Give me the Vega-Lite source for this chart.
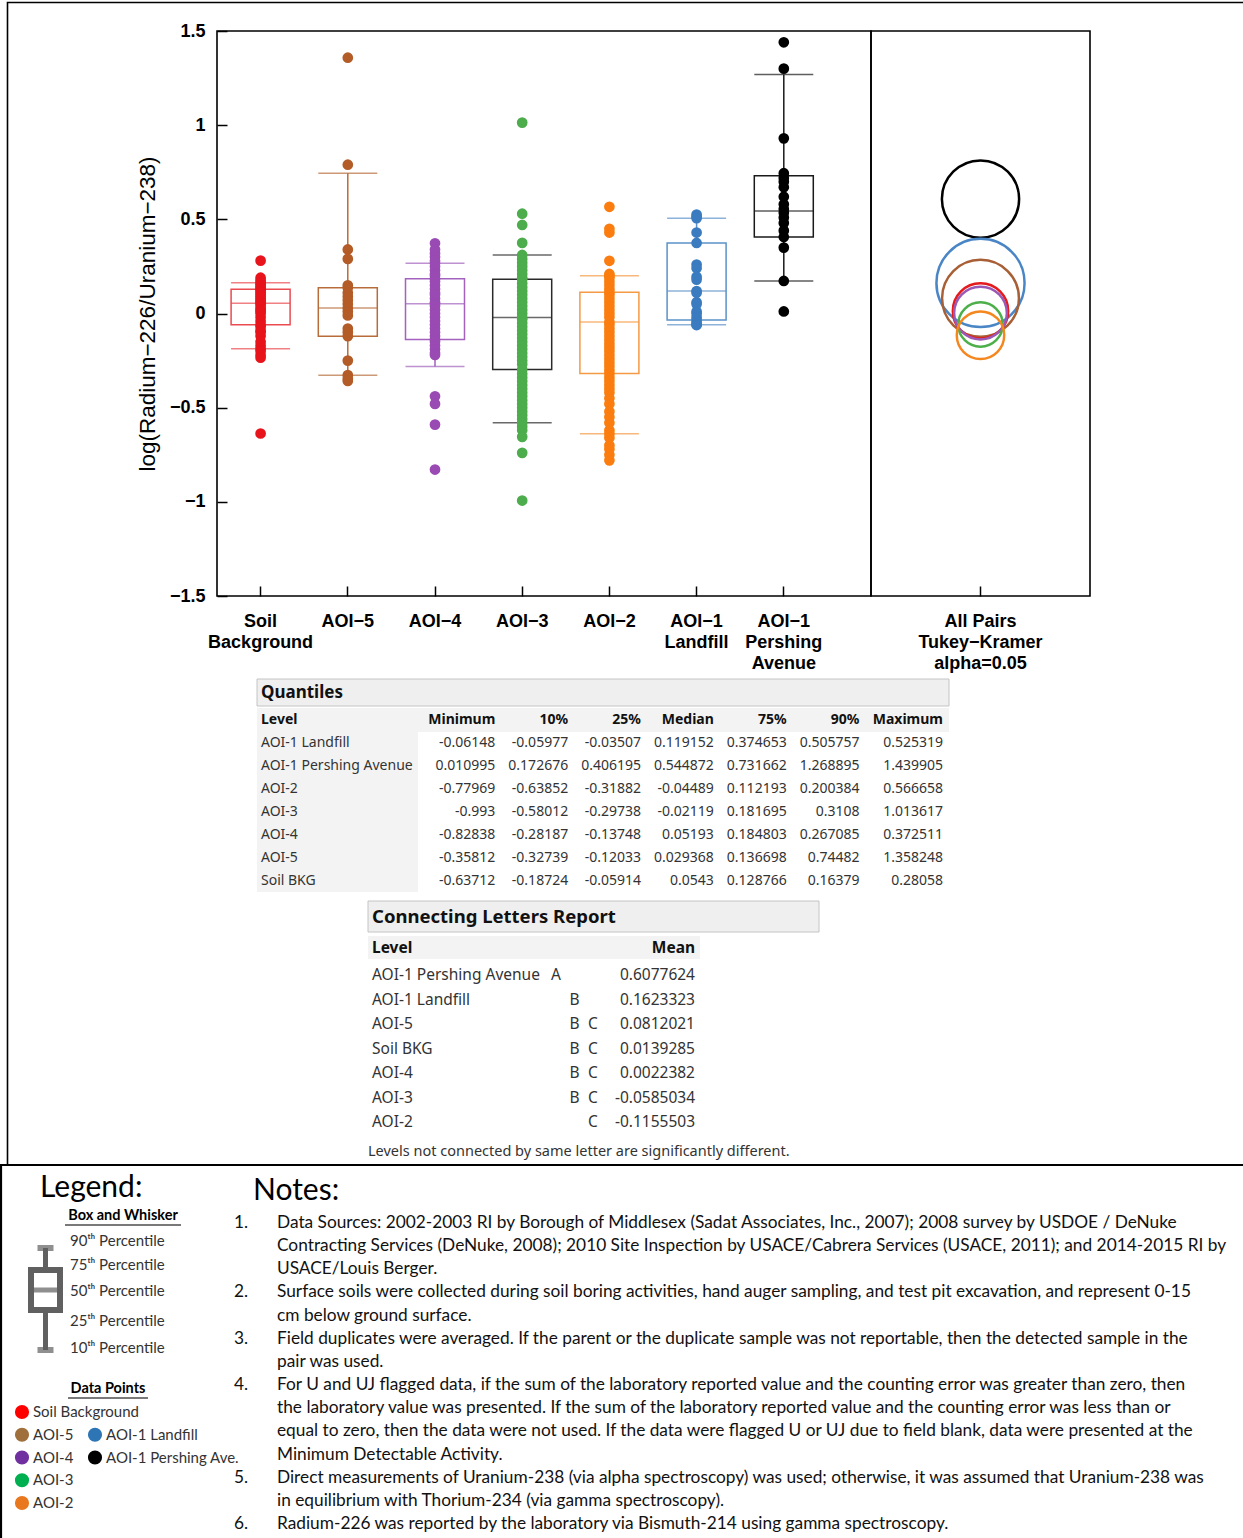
{
"$schema": "https://vega.github.io/schema/vega-lite/v6.json",
"width": 1243,
"height": 1538,
"padding": 0,
"autosize": {"type": "none"},
"background": "#ffffff",
"config": {
  "view": {"stroke": null},
  "locale": {"number": {"decimal": ".", "thousands": ",", "grouping": [3], "currency": ["$", ""], "minus": "-"}}
},
"datasets": {
  "points": [
    {"group":"Soil Background","value":0.28058},{"group":"Soil Background","value":0.19},{"group":"Soil Background","value":0.175},{"group":"Soil Background","value":0.16379},{"group":"Soil Background","value":0.155},{"group":"Soil Background","value":0.145},{"group":"Soil Background","value":0.135},{"group":"Soil Background","value":0.128766},{"group":"Soil Background","value":0.12},{"group":"Soil Background","value":0.11},{"group":"Soil Background","value":0.1},{"group":"Soil Background","value":0.09},{"group":"Soil Background","value":0.08},{"group":"Soil Background","value":0.07},{"group":"Soil Background","value":0.06},{"group":"Soil Background","value":0.0543},{"group":"Soil Background","value":0.045},{"group":"Soil Background","value":0.03},{"group":"Soil Background","value":0.02},{"group":"Soil Background","value":0.01},{"group":"Soil Background","value":0},{"group":"Soil Background","value":-0.02},{"group":"Soil Background","value":-0.04},{"group":"Soil Background","value":-0.05914},{"group":"Soil Background","value":-0.07},{"group":"Soil Background","value":-0.09},{"group":"Soil Background","value":-0.1},{"group":"Soil Background","value":-0.12},{"group":"Soil Background","value":-0.15},{"group":"Soil Background","value":-0.17},{"group":"Soil Background","value":-0.18724},{"group":"Soil Background","value":-0.2},{"group":"Soil Background","value":-0.22},{"group":"Soil Background","value":-0.235},{"group":"Soil Background","value":-0.63712},
    {"group":"AOI-5","value":1.358248},{"group":"AOI-5","value":0.79},{"group":"AOI-5","value":0.34},{"group":"AOI-5","value":0.29},{"group":"AOI-5","value":0.15},{"group":"AOI-5","value":0.136698},{"group":"AOI-5","value":0.11},{"group":"AOI-5","value":0.09},{"group":"AOI-5","value":0.07},{"group":"AOI-5","value":0.05},{"group":"AOI-5","value":0.029368},{"group":"AOI-5","value":0.01},{"group":"AOI-5","value":-0.01},{"group":"AOI-5","value":-0.08},{"group":"AOI-5","value":-0.1},{"group":"AOI-5","value":-0.12033},{"group":"AOI-5","value":-0.25},{"group":"AOI-5","value":-0.32739},{"group":"AOI-5","value":-0.345},{"group":"AOI-5","value":-0.35812},
    {"group":"AOI-4","value":0.372511},{"group":"AOI-4","value":0.34},{"group":"AOI-4","value":0.32},{"group":"AOI-4","value":0.3},{"group":"AOI-4","value":0.28},{"group":"AOI-4","value":0.267085},{"group":"AOI-4","value":0.25},{"group":"AOI-4","value":0.23},{"group":"AOI-4","value":0.21},{"group":"AOI-4","value":0.2},{"group":"AOI-4","value":0.184803},{"group":"AOI-4","value":0.17},{"group":"AOI-4","value":0.15},{"group":"AOI-4","value":0.13},{"group":"AOI-4","value":0.11},{"group":"AOI-4","value":0.1},{"group":"AOI-4","value":0.08},{"group":"AOI-4","value":0.06},{"group":"AOI-4","value":0.05193},{"group":"AOI-4","value":0.04},{"group":"AOI-4","value":0.02},{"group":"AOI-4","value":0},{"group":"AOI-4","value":-0.02},{"group":"AOI-4","value":-0.04},{"group":"AOI-4","value":-0.06},{"group":"AOI-4","value":-0.08},{"group":"AOI-4","value":-0.1},{"group":"AOI-4","value":-0.12},{"group":"AOI-4","value":-0.13748},{"group":"AOI-4","value":-0.15},{"group":"AOI-4","value":-0.17},{"group":"AOI-4","value":-0.19},{"group":"AOI-4","value":-0.21},{"group":"AOI-4","value":-0.22},{"group":"AOI-4","value":-0.44},{"group":"AOI-4","value":-0.48},{"group":"AOI-4","value":-0.59},{"group":"AOI-4","value":-0.82838},
    {"group":"AOI-3","value":1.013617},{"group":"AOI-3","value":0.53},{"group":"AOI-3","value":0.47},{"group":"AOI-3","value":0.375},{"group":"AOI-3","value":0.3108},{"group":"AOI-3","value":0.29},{"group":"AOI-3","value":0.27},{"group":"AOI-3","value":0.25},{"group":"AOI-3","value":0.23},{"group":"AOI-3","value":0.21},{"group":"AOI-3","value":0.19},{"group":"AOI-3","value":0.181695},{"group":"AOI-3","value":0.16},{"group":"AOI-3","value":0.14},{"group":"AOI-3","value":0.12},{"group":"AOI-3","value":0.1},{"group":"AOI-3","value":0.08},{"group":"AOI-3","value":0.06},{"group":"AOI-3","value":0.04},{"group":"AOI-3","value":0.02},{"group":"AOI-3","value":0},{"group":"AOI-3","value":-0.02119},{"group":"AOI-3","value":-0.03},{"group":"AOI-3","value":-0.05},{"group":"AOI-3","value":-0.07},{"group":"AOI-3","value":-0.09},{"group":"AOI-3","value":-0.11},{"group":"AOI-3","value":-0.13},{"group":"AOI-3","value":-0.15},{"group":"AOI-3","value":-0.17},{"group":"AOI-3","value":-0.19},{"group":"AOI-3","value":-0.21},{"group":"AOI-3","value":-0.23},{"group":"AOI-3","value":-0.25},{"group":"AOI-3","value":-0.27},{"group":"AOI-3","value":-0.29738},{"group":"AOI-3","value":-0.32},{"group":"AOI-3","value":-0.34},{"group":"AOI-3","value":-0.36},{"group":"AOI-3","value":-0.38},{"group":"AOI-3","value":-0.4},{"group":"AOI-3","value":-0.42},{"group":"AOI-3","value":-0.44},{"group":"AOI-3","value":-0.46},{"group":"AOI-3","value":-0.48},{"group":"AOI-3","value":-0.5},{"group":"AOI-3","value":-0.52},{"group":"AOI-3","value":-0.54},{"group":"AOI-3","value":-0.56},{"group":"AOI-3","value":-0.58012},{"group":"AOI-3","value":-0.6},{"group":"AOI-3","value":-0.62},{"group":"AOI-3","value":-0.655},{"group":"AOI-3","value":-0.74},{"group":"AOI-3","value":-0.993},
    {"group":"AOI-2","value":0.566658},{"group":"AOI-2","value":0.45},{"group":"AOI-2","value":0.43},{"group":"AOI-2","value":0.28},{"group":"AOI-2","value":0.21},{"group":"AOI-2","value":0.200384},{"group":"AOI-2","value":0.19},{"group":"AOI-2","value":0.17},{"group":"AOI-2","value":0.15},{"group":"AOI-2","value":0.13},{"group":"AOI-2","value":0.112193},{"group":"AOI-2","value":0.1},{"group":"AOI-2","value":0.08},{"group":"AOI-2","value":0.06},{"group":"AOI-2","value":0.04},{"group":"AOI-2","value":0.02},{"group":"AOI-2","value":0},{"group":"AOI-2","value":-0.02},{"group":"AOI-2","value":-0.04489},{"group":"AOI-2","value":-0.06},{"group":"AOI-2","value":-0.08},{"group":"AOI-2","value":-0.1},{"group":"AOI-2","value":-0.12},{"group":"AOI-2","value":-0.14},{"group":"AOI-2","value":-0.16},{"group":"AOI-2","value":-0.18},{"group":"AOI-2","value":-0.2},{"group":"AOI-2","value":-0.22},{"group":"AOI-2","value":-0.24},{"group":"AOI-2","value":-0.26},{"group":"AOI-2","value":-0.28},{"group":"AOI-2","value":-0.3},{"group":"AOI-2","value":-0.31882},{"group":"AOI-2","value":-0.34},{"group":"AOI-2","value":-0.36},{"group":"AOI-2","value":-0.38},{"group":"AOI-2","value":-0.4},{"group":"AOI-2","value":-0.42},{"group":"AOI-2","value":-0.45},{"group":"AOI-2","value":-0.48},{"group":"AOI-2","value":-0.52},{"group":"AOI-2","value":-0.55},{"group":"AOI-2","value":-0.58},{"group":"AOI-2","value":-0.62},{"group":"AOI-2","value":-0.63852},{"group":"AOI-2","value":-0.66},{"group":"AOI-2","value":-0.7},{"group":"AOI-2","value":-0.72},{"group":"AOI-2","value":-0.75},{"group":"AOI-2","value":-0.77969},
    {"group":"AOI-1 Landfill","value":0.525319},{"group":"AOI-1 Landfill","value":0.515},{"group":"AOI-1 Landfill","value":0.505757},{"group":"AOI-1 Landfill","value":0.43},{"group":"AOI-1 Landfill","value":0.374653},{"group":"AOI-1 Landfill","value":0.26},{"group":"AOI-1 Landfill","value":0.24},{"group":"AOI-1 Landfill","value":0.195},{"group":"AOI-1 Landfill","value":0.18},{"group":"AOI-1 Landfill","value":0.119152},{"group":"AOI-1 Landfill","value":0.11},{"group":"AOI-1 Landfill","value":0.06},{"group":"AOI-1 Landfill","value":0.05},{"group":"AOI-1 Landfill","value":0.01},{"group":"AOI-1 Landfill","value":0},{"group":"AOI-1 Landfill","value":-0.02},{"group":"AOI-1 Landfill","value":-0.03507},{"group":"AOI-1 Landfill","value":-0.05},{"group":"AOI-1 Landfill","value":-0.05977},{"group":"AOI-1 Landfill","value":-0.06148},
    {"group":"AOI-1 Pershing Avenue","value":1.439905},{"group":"AOI-1 Pershing Avenue","value":1.3},{"group":"AOI-1 Pershing Avenue","value":0.93},{"group":"AOI-1 Pershing Avenue","value":0.745},{"group":"AOI-1 Pershing Avenue","value":0.72},{"group":"AOI-1 Pershing Avenue","value":0.7},{"group":"AOI-1 Pershing Avenue","value":0.67},{"group":"AOI-1 Pershing Avenue","value":0.62},{"group":"AOI-1 Pershing Avenue","value":0.58},{"group":"AOI-1 Pershing Avenue","value":0.555},{"group":"AOI-1 Pershing Avenue","value":0.535},{"group":"AOI-1 Pershing Avenue","value":0.51},{"group":"AOI-1 Pershing Avenue","value":0.48},{"group":"AOI-1 Pershing Avenue","value":0.44},{"group":"AOI-1 Pershing Avenue","value":0.406195},{"group":"AOI-1 Pershing Avenue","value":0.35},{"group":"AOI-1 Pershing Avenue","value":0.172676},{"group":"AOI-1 Pershing Avenue","value":0.010995}
  ],
  "quantiles": [
    {"Level":"AOI-1 Landfill","group":"AOI-1 Landfill","Minimum":-0.06148,"p10":-0.05977,"p25":-0.03507,"Median":0.119152,"p75":0.374653,"p90":0.505757,"Maximum":0.525319},
    {"Level":"AOI-1 Pershing Avenue","group":"AOI-1 Pershing Avenue","Minimum":0.010995,"p10":0.172676,"p25":0.406195,"Median":0.544872,"p75":0.731662,"p90":1.268895,"Maximum":1.439905},
    {"Level":"AOI-2","group":"AOI-2","Minimum":-0.77969,"p10":-0.63852,"p25":-0.31882,"Median":-0.04489,"p75":0.112193,"p90":0.200384,"Maximum":0.566658},
    {"Level":"AOI-3","group":"AOI-3","Minimum":-0.993,"p10":-0.58012,"p25":-0.29738,"Median":-0.02119,"p75":0.181695,"p90":0.3108,"Maximum":1.013617},
    {"Level":"AOI-4","group":"AOI-4","Minimum":-0.82838,"p10":-0.28187,"p25":-0.13748,"Median":0.05193,"p75":0.184803,"p90":0.267085,"Maximum":0.372511},
    {"Level":"AOI-5","group":"AOI-5","Minimum":-0.35812,"p10":-0.32739,"p25":-0.12033,"Median":0.029368,"p75":0.136698,"p90":0.74482,"Maximum":1.358248},
    {"Level":"Soil BKG","group":"Soil Background","Minimum":-0.63712,"p10":-0.18724,"p25":-0.05914,"Median":0.0543,"p75":0.128766,"p90":0.16379,"Maximum":0.28058}
  ],
  "means": [
    {"Level":"AOI-1 Pershing Avenue","group":"AOI-1 Pershing Avenue","Letters":["A"],"Mean":0.6077624,"radius":0.205},
    {"Level":"AOI-1 Landfill","group":"AOI-1 Landfill","Letters":["B"],"Mean":0.1623323,"radius":0.234},
    {"Level":"AOI-5","group":"AOI-5","Letters":["B","C"],"Mean":0.0812021,"radius":0.204},
    {"Level":"Soil BKG","group":"Soil Background","Letters":["B","C"],"Mean":0.0139285,"radius":0.147},
    {"Level":"AOI-4","group":"AOI-4","Letters":["B","C"],"Mean":0.0022382,"radius":0.14},
    {"Level":"AOI-3","group":"AOI-3","Letters":["B","C"],"Mean":-0.0585034,"radius":0.118},
    {"Level":"AOI-2","group":"AOI-2","Letters":["C"],"Mean":-0.1155503,"radius":0.126}
  ],
  "qheads": [
    {"key":"Level","label":"Level"},{"key":"Minimum","label":"Minimum"},{"key":"p10","label":"10%"},{"key":"p25","label":"25%"},{"key":"Median","label":"Median"},{"key":"p75","label":"75%"},{"key":"p90","label":"90%"},{"key":"Maximum","label":"Maximum"}
  ],
  "lheads": [{"key":"Level","label":"Level"},{"key":"Mean","label":"Mean"}],
  "pctLegend": [
    {"pct":90,"label":"90ᵗʰ Percentile"},{"pct":75,"label":"75ᵗʰ Percentile"},{"pct":50,"label":"50ᵗʰ Percentile"},{"pct":25,"label":"25ᵗʰ Percentile"},{"pct":10,"label":"10ᵗʰ Percentile"}
  ],
  "legend1": [{"label":"Soil Background"},{"label":"AOI-5"},{"label":"AOI-4"},{"label":"AOI-3"},{"label":"AOI-2"}],
  "legend2": [{"label":"AOI-1 Landfill","beside":"AOI-5"},{"label":"AOI-1 Pershing Ave.","beside":"AOI-4"}],
  "notes": [
    {"line":1,"num":"1.","text":"Data Sources: 2002-2003 RI by Borough of Middlesex (Sadat Associates, Inc., 2007); 2008 survey by USDOE / DeNuke"},
    {"line":2,"num":"","text":"Contracting Services (DeNuke, 2008); 2010 Site Inspection by USACE/Cabrera Services (USACE, 2011); and 2014-2015 RI by"},
    {"line":3,"num":"","text":"USACE/Louis Berger."},
    {"line":4,"num":"2.","text":"Surface soils were collected during soil boring activities, hand auger sampling, and test pit excavation, and represent 0-15"},
    {"line":5,"num":"","text":"cm below ground surface."},
    {"line":6,"num":"3.","text":"Field duplicates were averaged.  If the parent or the duplicate sample was not reportable, then the detected sample in the"},
    {"line":7,"num":"","text":"pair was used."},
    {"line":8,"num":"4.","text":"For U and UJ flagged data, if the sum of the laboratory reported value and the counting error was greater than zero, then"},
    {"line":9,"num":"","text":"the laboratory value was presented.  If the sum of the laboratory reported value and the counting error was less than or"},
    {"line":10,"num":"","text":"equal to zero, then the data were not used.  If the data were flagged U or UJ due to field blank, data were presented at the"},
    {"line":11,"num":"","text":"Minimum Detectable Activity."},
    {"line":12,"num":"5.","text":"Direct measurements of Uranium-238 (via alpha spectroscopy) was used; otherwise, it was assumed that Uranium-238 was"},
    {"line":13,"num":"","text":"in equilibrium with Thorium-234 (via gamma spectroscopy)."},
    {"line":14,"num":"6.","text":"Radium-226 was reported by the laboratory via Bismuth-214 using gamma spectroscopy."}
  ]
},
"layer": [
  {
    "layer": [
      {"data": {"values": [{"box": "report"}]},
       "mark": {"type": "rect", "fill": "transparent", "stroke": "#000000", "strokeWidth": 1.6},
       "encoding": {
         "x": {"field": "box", "type": "nominal", "scale": {"type": "band", "domain": ["report"], "range": [7.5, 1252], "paddingInner": 0, "paddingOuter": 0}, "axis": null},
         "y": {"field": "box", "type": "nominal", "scale": {"type": "band", "domain": ["report"], "range": [2.5, 1165], "paddingInner": 0, "paddingOuter": 0}, "axis": null}}},
      {"data": {"values": [{"box": "notes"}]},
       "mark": {"type": "rect", "fill": "transparent", "stroke": "#000000", "strokeWidth": 2.2},
       "encoding": {
         "x": {"field": "box", "type": "nominal", "scale": {"type": "band", "domain": ["notes"], "range": [1, 1252], "paddingInner": 0, "paddingOuter": 0}, "axis": null},
         "y": {"field": "box", "type": "nominal", "scale": {"type": "band", "domain": ["notes"], "range": [1165, 1548], "paddingInner": 0, "paddingOuter": 0}, "axis": null}}}
    ],
    "resolve": {"scale": {"x": "independent", "y": "independent"}}
  },
  {
    "layer": [
      {"data": {"values": [{"title": "Quantiles"}]},
       "layer": [
         {"mark": {"type": "rect", "fill": "#efefef", "stroke": "#c4c4c4", "strokeWidth": 1},
          "encoding": {
            "x": {"field": "title", "type": "nominal", "scale": {"type": "band", "domain": ["Quantiles"], "range": [257, 949], "paddingInner": 0, "paddingOuter": 0}, "axis": null},
            "y": {"field": "title", "type": "nominal", "scale": {"type": "band", "domain": ["Quantiles"], "range": [679, 706], "paddingInner": 0, "paddingOuter": 0}, "axis": null}}},
         {"mark": {"type": "text", "align": "left", "baseline": "middle", "font": "Noto Sans", "fontWeight": "bold", "fontSize": 17, "dx": 4, "color": "#111111"},
          "encoding": {
            "x": {"field": "title", "type": "nominal", "bandPosition": 0, "scale": {"type": "band", "domain": ["Quantiles"], "range": [257, 949], "paddingInner": 0, "paddingOuter": 0}, "axis": null},
            "y": {"field": "title", "type": "nominal", "scale": {"type": "band", "domain": ["Quantiles"], "range": [679, 706], "paddingInner": 0, "paddingOuter": 0}, "axis": null},
            "text": {"field": "title"}}}
       ]},
      {"data": {"values": [{"part": "header"}]},
       "mark": {"type": "rect", "fill": "#f3f3f3"},
       "encoding": {
         "x": {"field": "part", "type": "nominal", "scale": {"type": "band", "domain": ["header"], "range": [257, 949], "paddingInner": 0, "paddingOuter": 0}, "axis": null},
         "y": {"field": "part", "type": "nominal", "scale": {"type": "band", "domain": ["header"], "range": [708, 732], "paddingInner": 0, "paddingOuter": 0}, "axis": null}}},
      {"data": {"values": [{"part": "levels"}]},
       "mark": {"type": "rect", "fill": "#f3f3f3"},
       "encoding": {
         "x": {"field": "part", "type": "nominal", "scale": {"type": "band", "domain": ["levels"], "range": [257, 418], "paddingInner": 0, "paddingOuter": 0}, "axis": null},
         "y": {"field": "part", "type": "nominal", "scale": {"type": "band", "domain": ["levels"], "range": [708, 892], "paddingInner": 0, "paddingOuter": 0}, "axis": null}}},
      {
        "layer": [
          {"data": {"name": "quantiles"},
           "mark": {"type": "text", "align": "left", "baseline": "middle", "font": "Noto Sans", "fontSize": 14, "color": "#333333"},
           "encoding": {
             "x": {"datum": "Level", "type": "nominal", "bandPosition": 0, "scale": {"type": "band", "domain": ["Level"], "range": [261, 418], "paddingInner": 0, "paddingOuter": 0}, "axis": null},
             "y": {"field": "Level", "type": "nominal", "scale": {"type": "point", "domain": ["Level", "AOI-1 Landfill", "AOI-1 Pershing Avenue", "AOI-2", "AOI-3", "AOI-4", "AOI-5", "Soil BKG"], "range": [720, 880.5], "padding": 0}, "axis": null},
             "text": {"field": "Level"}}},
          {"data": {"name": "qheads"},
           "transform": [{"filter": "datum.key == 'Level'"}],
           "mark": {"type": "text", "align": "left", "baseline": "middle", "font": "Noto Sans", "fontWeight": "bold", "fontSize": 14, "color": "#111111"},
           "encoding": {
             "x": {"field": "key", "type": "nominal", "bandPosition": 0, "scale": {"type": "band", "domain": ["Level"], "range": [261, 418], "paddingInner": 0, "paddingOuter": 0}, "axis": null},
             "y": {"datum": "Level", "type": "nominal", "scale": {"type": "point", "domain": ["Level", "AOI-1 Landfill", "AOI-1 Pershing Avenue", "AOI-2", "AOI-3", "AOI-4", "AOI-5", "Soil BKG"], "range": [720, 880.5], "padding": 0}, "axis": null},
             "text": {"field": "label"}}},
          {"data": {"name": "quantiles"},
           "transform": [{"fold": ["Minimum", "p10", "p25", "Median", "p75", "p90"], "as": ["key", "val"]}],
           "mark": {"type": "text", "align": "right", "baseline": "middle", "font": "Noto Sans", "fontSize": 14, "color": "#333333"},
           "encoding": {
             "x": {"field": "key", "type": "nominal", "bandPosition": 1, "scale": {"type": "band", "domain": ["Minimum", "p10", "p25", "Median", "p75", "p90"], "range": [422.5, 859.5], "paddingInner": 0, "paddingOuter": 0}, "axis": null},
             "y": {"field": "Level", "type": "nominal", "scale": {"type": "point", "domain": ["Level", "AOI-1 Landfill", "AOI-1 Pershing Avenue", "AOI-2", "AOI-3", "AOI-4", "AOI-5", "Soil BKG"], "range": [720, 880.5], "padding": 0}, "axis": null},
             "text": {"field": "val", "type": "quantitative", "format": ".6~f"}}},
          {"data": {"name": "qheads"},
           "transform": [{"filter": "datum.key != 'Level' && datum.key != 'Maximum'"}],
           "mark": {"type": "text", "align": "right", "baseline": "middle", "font": "Noto Sans", "fontWeight": "bold", "fontSize": 14, "color": "#111111"},
           "encoding": {
             "x": {"field": "key", "type": "nominal", "bandPosition": 1, "scale": {"type": "band", "domain": ["Minimum", "p10", "p25", "Median", "p75", "p90"], "range": [422.5, 859.5], "paddingInner": 0, "paddingOuter": 0}, "axis": null},
             "y": {"datum": "Level", "type": "nominal", "scale": {"type": "point", "domain": ["Level", "AOI-1 Landfill", "AOI-1 Pershing Avenue", "AOI-2", "AOI-3", "AOI-4", "AOI-5", "Soil BKG"], "range": [720, 880.5], "padding": 0}, "axis": null},
             "text": {"field": "label"}}},
          {"data": {"name": "quantiles"},
           "mark": {"type": "text", "align": "right", "baseline": "middle", "font": "Noto Sans", "fontSize": 14, "color": "#333333"},
           "encoding": {
             "x": {"datum": "Maximum", "type": "nominal", "bandPosition": 1, "scale": {"type": "band", "domain": ["Maximum"], "range": [859.5, 943], "paddingInner": 0, "paddingOuter": 0}, "axis": null},
             "y": {"field": "Level", "type": "nominal", "scale": {"type": "point", "domain": ["Level", "AOI-1 Landfill", "AOI-1 Pershing Avenue", "AOI-2", "AOI-3", "AOI-4", "AOI-5", "Soil BKG"], "range": [720, 880.5], "padding": 0}, "axis": null},
             "text": {"field": "Maximum", "type": "quantitative", "format": ".6~f"}}},
          {"data": {"name": "qheads"},
           "transform": [{"filter": "datum.key == 'Maximum'"}],
           "mark": {"type": "text", "align": "right", "baseline": "middle", "font": "Noto Sans", "fontWeight": "bold", "fontSize": 14, "color": "#111111"},
           "encoding": {
             "x": {"field": "key", "type": "nominal", "bandPosition": 1, "scale": {"type": "band", "domain": ["Maximum"], "range": [859.5, 943], "paddingInner": 0, "paddingOuter": 0}, "axis": null},
             "y": {"datum": "Level", "type": "nominal", "scale": {"type": "point", "domain": ["Level", "AOI-1 Landfill", "AOI-1 Pershing Avenue", "AOI-2", "AOI-3", "AOI-4", "AOI-5", "Soil BKG"], "range": [720, 880.5], "padding": 0}, "axis": null},
             "text": {"field": "label"}}}
        ],
        "resolve": {"scale": {"x": "independent"}}
      }
    ],
    "resolve": {"scale": {"x": "independent", "y": "independent"}}
  },
  {
    "layer": [
      {"data": {"values": [{"title": "Connecting Letters Report"}]},
       "layer": [
         {"mark": {"type": "rect", "fill": "#efefef", "stroke": "#c4c4c4", "strokeWidth": 1},
          "encoding": {
            "x": {"field": "title", "type": "nominal", "scale": {"type": "band", "domain": ["Connecting Letters Report"], "range": [368, 819], "paddingInner": 0, "paddingOuter": 0}, "axis": null},
            "y": {"field": "title", "type": "nominal", "scale": {"type": "band", "domain": ["Connecting Letters Report"], "range": [901, 932], "paddingInner": 0, "paddingOuter": 0}, "axis": null}}},
         {"mark": {"type": "text", "align": "left", "baseline": "middle", "font": "Noto Sans", "fontWeight": "bold", "fontSize": 18.5, "dx": 4, "color": "#111111"},
          "encoding": {
            "x": {"field": "title", "type": "nominal", "bandPosition": 0, "scale": {"type": "band", "domain": ["Connecting Letters Report"], "range": [368, 819], "paddingInner": 0, "paddingOuter": 0}, "axis": null},
            "y": {"field": "title", "type": "nominal", "scale": {"type": "band", "domain": ["Connecting Letters Report"], "range": [901, 932], "paddingInner": 0, "paddingOuter": 0}, "axis": null},
            "text": {"field": "title"}}}
       ]},
      {"data": {"name": "lheads"},
       "layer": [
         {"mark": {"type": "rect", "fill": "#f3f3f3"},
          "encoding": {
            "x": {"field": "key", "type": "nominal", "scale": {"type": "band", "domain": ["Level", "Mean"], "range": [368, 700], "paddingInner": 0, "paddingOuter": 0}, "axis": null},
            "y": {"datum": "hdr", "type": "nominal", "scale": {"type": "band", "domain": ["hdr"], "range": [936, 959], "paddingInner": 0, "paddingOuter": 0}, "axis": null}}},
         {"transform": [{"filter": "datum.key == 'Level'"}],
          "mark": {"type": "text", "align": "left", "baseline": "middle", "font": "Noto Sans", "fontWeight": "bold", "fontSize": 15.5, "dx": 4, "color": "#111111"},
          "encoding": {
            "x": {"field": "key", "type": "nominal", "bandPosition": 0, "scale": {"type": "band", "domain": ["Level", "Mean"], "range": [368, 700], "paddingInner": 0, "paddingOuter": 0}, "axis": null},
            "y": {"datum": "hdr", "type": "nominal", "scale": {"type": "band", "domain": ["hdr"], "range": [936, 959], "paddingInner": 0, "paddingOuter": 0}, "axis": null},
            "text": {"field": "label"}}},
         {"transform": [{"filter": "datum.key == 'Mean'"}],
          "mark": {"type": "text", "align": "right", "baseline": "middle", "font": "Noto Sans", "fontWeight": "bold", "fontSize": 15.5, "dx": -5, "color": "#111111"},
          "encoding": {
            "x": {"field": "key", "type": "nominal", "bandPosition": 1, "scale": {"type": "band", "domain": ["Level", "Mean"], "range": [368, 700], "paddingInner": 0, "paddingOuter": 0}, "axis": null},
            "y": {"datum": "hdr", "type": "nominal", "scale": {"type": "band", "domain": ["hdr"], "range": [936, 959], "paddingInner": 0, "paddingOuter": 0}, "axis": null},
            "text": {"field": "label"}}}
       ]},
      {"data": {"name": "means"},
       "layer": [
         {"mark": {"type": "text", "align": "left", "baseline": "middle", "font": "Noto Sans", "fontSize": 15.5, "color": "#333333"},
          "encoding": {
            "x": {"datum": "Level", "type": "nominal", "bandPosition": 0, "scale": {"type": "band", "domain": ["Level"], "range": [372, 550], "paddingInner": 0, "paddingOuter": 0}, "axis": null},
            "y": {"field": "Level", "type": "nominal", "scale": {"type": "point", "domain": ["AOI-1 Pershing Avenue", "AOI-1 Landfill", "AOI-5", "Soil BKG", "AOI-4", "AOI-3", "AOI-2"], "range": [975, 1122], "padding": 0}, "axis": null},
            "text": {"field": "Level"}}},
         {"transform": [{"flatten": ["Letters"]}],
          "mark": {"type": "text", "align": "center", "baseline": "middle", "font": "Noto Sans", "fontSize": 15.5, "color": "#333333"},
          "encoding": {
            "x": {"field": "Letters", "type": "nominal", "scale": {"type": "point", "domain": ["A", "B", "C"], "range": [556, 593], "padding": 0}, "axis": null},
            "y": {"field": "Level", "type": "nominal", "scale": {"type": "point", "domain": ["AOI-1 Pershing Avenue", "AOI-1 Landfill", "AOI-5", "Soil BKG", "AOI-4", "AOI-3", "AOI-2"], "range": [975, 1122], "padding": 0}, "axis": null},
            "text": {"field": "Letters"}}},
         {"mark": {"type": "text", "align": "right", "baseline": "middle", "font": "Noto Sans", "fontSize": 15.5, "color": "#333333"},
          "encoding": {
            "x": {"datum": "Mean", "type": "nominal", "bandPosition": 1, "scale": {"type": "band", "domain": ["Mean"], "range": [600, 695], "paddingInner": 0, "paddingOuter": 0}, "axis": null},
            "y": {"field": "Level", "type": "nominal", "scale": {"type": "point", "domain": ["AOI-1 Pershing Avenue", "AOI-1 Landfill", "AOI-5", "Soil BKG", "AOI-4", "AOI-3", "AOI-2"], "range": [975, 1122], "padding": 0}, "axis": null},
            "text": {"field": "Mean", "type": "quantitative", "format": ".7f"}}}
       ],
       "resolve": {"scale": {"x": "independent"}}},
      {"data": {"values": [{"note": "Levels not connected by same letter are significantly different."}]},
       "mark": {"type": "text", "align": "left", "baseline": "middle", "font": "Noto Sans", "fontSize": 14.5, "color": "#333333"},
       "encoding": {
         "x": {"field": "note", "type": "nominal", "bandPosition": 0, "scale": {"type": "band", "range": [368, 819], "paddingInner": 0, "paddingOuter": 0}, "axis": null},
         "y": {"field": "note", "type": "nominal", "scale": {"type": "band", "range": [1142, 1162], "paddingInner": 0, "paddingOuter": 0}, "axis": null},
         "text": {"field": "note"}}}
    ],
    "resolve": {"scale": {"x": "independent", "y": "independent"}}
  },
  {
    "layer": [
      {"data": {"values": [{"h": "Legend:"}, {"h": "Notes:"}]},
       "mark": {"type": "text", "align": "left", "baseline": "middle", "font": "Lato", "fontSize": 30, "color": "#000000"},
       "encoding": {
         "x": {"field": "h", "type": "nominal", "scale": {"type": "point", "domain": ["Legend:", "Notes:"], "range": [40, 253], "padding": 0}, "axis": null},
         "y": {"field": "h", "type": "nominal", "scale": {"type": "point", "domain": ["Legend:", "Notes:"], "range": [1188, 1191], "padding": 0}, "axis": null},
         "text": {"field": "h"}}},
      {"data": {"values": [{"s": "Box and Whisker"}, {"s": "Data Points"}]},
       "layer": [
         {"mark": {"type": "text", "align": "center", "baseline": "middle", "font": "Lato", "fontWeight": "bold", "fontSize": 14.5, "color": "#000000"},
          "encoding": {
            "x": {"field": "s", "type": "nominal", "scale": {"type": "point", "domain": ["Box and Whisker", "Data Points"], "range": [123, 108], "padding": 0}, "axis": null},
            "y": {"field": "s", "type": "nominal", "scale": {"type": "point", "domain": ["Box and Whisker", "Data Points"], "range": [1216, 1389], "padding": 0}, "axis": null},
            "text": {"field": "s"}}},
         {"mark": {"type": "tick", "orient": "horizontal", "thickness": 1.3, "yOffset": 9, "color": "#000000"},
          "encoding": {
            "x": {"field": "s", "type": "nominal", "scale": {"type": "point", "domain": ["Box and Whisker", "Data Points"], "range": [123, 108], "padding": 0}, "axis": null},
            "y": {"field": "s", "type": "nominal", "scale": {"type": "point", "domain": ["Box and Whisker", "Data Points"], "range": [1216, 1389], "padding": 0}, "axis": null},
            "size": {"field": "s", "type": "ordinal", "scale": {"domain": ["Box and Whisker", "Data Points"], "range": [116, 80]}, "legend": null}}}
       ]},
      {"data": {"name": "pctLegend"},
       "layer": [
         {"mark": {"type": "rule", "strokeWidth": 5, "color": "#606060"},
          "encoding": {
            "x": {"datum": "icon", "type": "nominal", "scale": {"type": "band", "domain": ["icon"], "range": [31, 60], "paddingInner": 0, "paddingOuter": 0}, "axis": null},
            "y": {"aggregate": "min", "field": "pct", "type": "quantitative", "scale": {"domain": [10, 25, 50, 75, 90], "range": [1350, 1310, 1290, 1270, 1248], "nice": false, "zero": false}, "axis": null},
            "y2": {"aggregate": "max", "field": "pct"}}},
         {"transform": [{"filter": "datum.pct == 25 || datum.pct == 75"}],
          "mark": {"type": "rect", "fill": "#ffffff", "stroke": "#606060", "strokeWidth": 6},
          "encoding": {
            "x": {"datum": "icon", "type": "nominal", "scale": {"type": "band", "domain": ["icon"], "range": [31, 60], "paddingInner": 0, "paddingOuter": 0}, "axis": null},
            "y": {"aggregate": "min", "field": "pct", "type": "quantitative", "scale": {"domain": [10, 25, 50, 75, 90], "range": [1350, 1310, 1290, 1270, 1248], "nice": false, "zero": false}, "axis": null},
            "y2": {"aggregate": "max", "field": "pct"}}},
         {"transform": [{"filter": "datum.pct == 50"}],
          "mark": {"type": "tick", "orient": "horizontal", "size": 30, "thickness": 5, "color": "#606060"},
          "encoding": {
            "x": {"datum": "icon", "type": "nominal", "scale": {"type": "band", "domain": ["icon"], "range": [31, 60], "paddingInner": 0, "paddingOuter": 0}, "axis": null},
            "y": {"field": "pct", "type": "quantitative", "scale": {"domain": [10, 25, 50, 75, 90], "range": [1350, 1310, 1290, 1270, 1248], "nice": false, "zero": false}, "axis": null}}},
         {"transform": [{"filter": "datum.pct == 10 || datum.pct == 90"}],
          "mark": {"type": "tick", "orient": "horizontal", "size": 16, "thickness": 6, "color": "#606060"},
          "encoding": {
            "x": {"datum": "icon", "type": "nominal", "scale": {"type": "band", "domain": ["icon"], "range": [31, 60], "paddingInner": 0, "paddingOuter": 0}, "axis": null},
            "y": {"field": "pct", "type": "quantitative", "scale": {"domain": [10, 25, 50, 75, 90], "range": [1350, 1310, 1290, 1270, 1248], "nice": false, "zero": false}, "axis": null}}}
       ]},
      {"data": {"name": "pctLegend"},
       "mark": {"type": "text", "align": "left", "baseline": "middle", "font": "Lato", "fontSize": 15, "color": "#333333"},
       "encoding": {
         "x": {"datum": "lbl", "type": "nominal", "bandPosition": 0, "scale": {"type": "band", "domain": ["lbl"], "range": [70, 240], "paddingInner": 0, "paddingOuter": 0}, "axis": null},
         "y": {"field": "pct", "type": "quantitative", "scale": {"domain": [10, 25, 50, 75, 90], "range": [1348, 1321, 1291, 1265, 1241], "nice": false, "zero": false}, "axis": null},
         "text": {"field": "label"}}},
      {"layer": [
         {"data": {"name": "legend1"},
          "mark": {"type": "circle", "size": 200, "opacity": 1},
          "encoding": {
            "x": {"datum": "left", "type": "nominal", "scale": {"type": "point", "domain": ["left", "right"], "range": [22, 95], "padding": 0}, "axis": null},
            "y": {"field": "label", "type": "nominal", "scale": {"type": "point", "domain": ["Soil Background", "AOI-5", "AOI-4", "AOI-3", "AOI-2"], "range": [1412, 1503], "padding": 0}, "axis": null},
            "fill": {"field": "label", "type": "nominal", "scale": {"domain": ["Soil Background", "AOI-5", "AOI-4", "AOI-3", "AOI-2", "AOI-1 Landfill", "AOI-1 Pershing Ave."], "range": ["#ff0000", "#a0703c", "#7030a0", "#00b050", "#e8771e", "#2e75b6", "#000000"]}, "legend": null}}},
         {"data": {"name": "legend1"},
          "mark": {"type": "text", "align": "left", "baseline": "middle", "font": "Lato", "fontSize": 15, "dx": 11, "color": "#333333"},
          "encoding": {
            "x": {"datum": "left", "type": "nominal", "scale": {"type": "point", "domain": ["left", "right"], "range": [22, 95], "padding": 0}, "axis": null},
            "y": {"field": "label", "type": "nominal", "scale": {"type": "point", "domain": ["Soil Background", "AOI-5", "AOI-4", "AOI-3", "AOI-2"], "range": [1412, 1503], "padding": 0}, "axis": null},
            "text": {"field": "label"}}},
         {"data": {"name": "legend2"},
          "mark": {"type": "circle", "size": 200, "opacity": 1},
          "encoding": {
            "x": {"datum": "right", "type": "nominal", "scale": {"type": "point", "domain": ["left", "right"], "range": [22, 95], "padding": 0}, "axis": null},
            "y": {"field": "beside", "type": "nominal", "scale": {"type": "point", "domain": ["Soil Background", "AOI-5", "AOI-4", "AOI-3", "AOI-2"], "range": [1412, 1503], "padding": 0}, "axis": null},
            "fill": {"field": "label", "type": "nominal", "scale": {"domain": ["Soil Background", "AOI-5", "AOI-4", "AOI-3", "AOI-2", "AOI-1 Landfill", "AOI-1 Pershing Ave."], "range": ["#ff0000", "#a0703c", "#7030a0", "#00b050", "#e8771e", "#2e75b6", "#000000"]}, "legend": null}}},
         {"data": {"name": "legend2"},
          "mark": {"type": "text", "align": "left", "baseline": "middle", "font": "Lato", "fontSize": 15, "dx": 11, "color": "#333333"},
          "encoding": {
            "x": {"datum": "right", "type": "nominal", "scale": {"type": "point", "domain": ["left", "right"], "range": [22, 95], "padding": 0}, "axis": null},
            "y": {"field": "beside", "type": "nominal", "scale": {"type": "point", "domain": ["Soil Background", "AOI-5", "AOI-4", "AOI-3", "AOI-2"], "range": [1412, 1503], "padding": 0}, "axis": null},
            "text": {"field": "label"}}}
      ]},
      {"data": {"name": "notes"},
       "layer": [
         {"transform": [{"filter": "datum.num != ''"}],
          "mark": {"type": "text", "align": "left", "baseline": "middle", "font": "Lato", "fontSize": 17.3, "color": "#111111"},
          "encoding": {
            "x": {"datum": "num", "type": "nominal", "scale": {"type": "point", "domain": ["num", "text"], "range": [234, 277], "padding": 0}, "axis": null},
            "y": {"field": "line", "type": "ordinal", "scale": {"type": "point", "domain": [1,2,3,4,5,6,7,8,9,10,11,12,13,14], "range": [1223, 1524], "padding": 0}, "axis": null},
            "text": {"field": "num"}}},
         {"mark": {"type": "text", "align": "left", "baseline": "middle", "font": "Lato", "fontSize": 17.3, "color": "#111111"},
          "encoding": {
            "x": {"datum": "text", "type": "nominal", "scale": {"type": "point", "domain": ["num", "text"], "range": [234, 277], "padding": 0}, "axis": null},
            "y": {"field": "line", "type": "ordinal", "scale": {"type": "point", "domain": [1,2,3,4,5,6,7,8,9,10,11,12,13,14], "range": [1223, 1524], "padding": 0}, "axis": null},
            "text": {"field": "text"}}}
       ]}
    ],
    "resolve": {"scale": {"x": "independent", "y": "independent", "fill": "independent", "size": "independent"}}
  },
  {
    "data": {"values": [{"panel": "groups"}]},
    "mark": {"type": "rect", "fill": "transparent", "stroke": "#000000", "strokeWidth": 1.6},
    "encoding": {
      "x": {"field": "panel", "type": "nominal", "scale": {"type": "band", "domain": ["groups"], "range": [217, 871], "paddingInner": 0, "paddingOuter": 0}, "axis": null},
      "y": {"datum": 1.5, "type": "quantitative", "scale": {"domain": [-1.5, 1.5], "range": [596, 31], "nice": false, "zero": false}, "axis": null},
      "y2": {"datum": -1.5}
    }
  },
  {
    "layer": [
      {"data": {"name": "quantiles"},
       "mark": {"type": "rule", "strokeWidth": 1.5},
       "encoding": {
         "x": {"field": "group", "type": "nominal", "title": null, "scale": {"type": "band", "domain": ["Soil Background", "AOI-5", "AOI-4", "AOI-3", "AOI-2", "AOI-1 Landfill", "AOI-1 Pershing Avenue"], "range": [217, 871], "paddingInner": 0, "paddingOuter": 0.25, "align": 0}},
         "y": {"field": "p10", "type": "quantitative", "title": "log(Radium−226/Uranium−238)", "scale": {"domain": [-1.5, 1.5], "range": [596, 31], "nice": false, "zero": false}},
         "y2": {"field": "p25"},
         "stroke": {"field": "group", "type": "nominal", "scale": {"domain": ["Soil Background", "AOI-5", "AOI-4", "AOI-3", "AOI-2", "AOI-1 Landfill", "AOI-1 Pershing Avenue"], "range": ["#ea4a50", "#b76c3a", "#a262bd", "#2a2a2a", "#f59a44", "#5b92c9", "#1a1a1a"]}, "legend": null}}},
      {"data": {"name": "quantiles"},
       "mark": {"type": "rule", "strokeWidth": 1.5},
       "encoding": {
         "x": {"field": "group", "type": "nominal", "title": null, "scale": {"type": "band", "domain": ["Soil Background", "AOI-5", "AOI-4", "AOI-3", "AOI-2", "AOI-1 Landfill", "AOI-1 Pershing Avenue"], "range": [217, 871], "paddingInner": 0, "paddingOuter": 0.25, "align": 0}},
         "y": {"field": "p75", "type": "quantitative", "title": "log(Radium−226/Uranium−238)", "scale": {"domain": [-1.5, 1.5], "range": [596, 31], "nice": false, "zero": false}},
         "y2": {"field": "p90"},
         "stroke": {"field": "group", "type": "nominal", "scale": {"domain": ["Soil Background", "AOI-5", "AOI-4", "AOI-3", "AOI-2", "AOI-1 Landfill", "AOI-1 Pershing Avenue"], "range": ["#ea4a50", "#b76c3a", "#a262bd", "#2a2a2a", "#f59a44", "#5b92c9", "#1a1a1a"]}, "legend": null}}},
      {"data": {"name": "quantiles"},
       "mark": {"type": "bar", "size": 59, "fill": "transparent", "strokeWidth": 1.5},
       "encoding": {
         "x": {"field": "group", "type": "nominal", "title": null, "scale": {"type": "band", "domain": ["Soil Background", "AOI-5", "AOI-4", "AOI-3", "AOI-2", "AOI-1 Landfill", "AOI-1 Pershing Avenue"], "range": [217, 871], "paddingInner": 0, "paddingOuter": 0.25, "align": 0}},
         "y": {"field": "p25", "type": "quantitative", "title": "log(Radium−226/Uranium−238)", "scale": {"domain": [-1.5, 1.5], "range": [596, 31], "nice": false, "zero": false}},
         "y2": {"field": "p75"},
         "stroke": {"field": "group", "type": "nominal", "scale": {"domain": ["Soil Background", "AOI-5", "AOI-4", "AOI-3", "AOI-2", "AOI-1 Landfill", "AOI-1 Pershing Avenue"], "range": ["#ea4a50", "#b76c3a", "#a262bd", "#2a2a2a", "#f59a44", "#5b92c9", "#1a1a1a"]}, "legend": null}}},
      {"data": {"name": "quantiles"},
       "transform": [{"fold": ["p10", "Median", "p90"], "as": ["stat", "v"]}],
       "mark": {"type": "tick", "size": 59, "thickness": 1.5},
       "encoding": {
         "x": {"field": "group", "type": "nominal", "title": null, "scale": {"type": "band", "domain": ["Soil Background", "AOI-5", "AOI-4", "AOI-3", "AOI-2", "AOI-1 Landfill", "AOI-1 Pershing Avenue"], "range": [217, 871], "paddingInner": 0, "paddingOuter": 0.25, "align": 0}},
         "y": {"field": "v", "type": "quantitative", "title": "log(Radium−226/Uranium−238)", "scale": {"domain": [-1.5, 1.5], "range": [596, 31], "nice": false, "zero": false}},
         "color": {"field": "group", "type": "nominal", "scale": {"domain": ["Soil Background", "AOI-5", "AOI-4", "AOI-3", "AOI-2", "AOI-1 Landfill", "AOI-1 Pershing Avenue"], "range": ["#ea4a50", "#b76c3a", "#a262bd", "#2a2a2a", "#f59a44", "#5b92c9", "#1a1a1a"]}, "legend": null}}},
      {"data": {"name": "points"},
       "mark": {"type": "circle", "size": 115, "opacity": 1},
       "encoding": {
         "x": {"field": "group", "type": "nominal", "title": null,
               "scale": {"type": "band", "domain": ["Soil Background", "AOI-5", "AOI-4", "AOI-3", "AOI-2", "AOI-1 Landfill", "AOI-1 Pershing Avenue"], "range": [217, 871], "paddingInner": 0, "paddingOuter": 0.25, "align": 0},
               "axis": {"orient": "bottom", "offset": -942, "domain": false, "grid": false, "tickSize": -10, "tickWidth": 1.5, "tickColor": "#000000", "labelFont": "Liberation Sans", "labelFontSize": 18, "labelFontWeight": "bold", "labelColor": "#000000", "labelAngle": 0, "labelAlign": "center", "labelPadding": 26, "labelLineHeight": 21, "labelBaseline": "top", "labelLimit": 0, "labelOverlap": false, "labelBound": false, "labelFlush": false, "labelExpr": "split(replace(datum.label, '-', '−'), ' ')", "title": null}},
         "y": {"field": "value", "type": "quantitative", "title": "log(Radium−226/Uranium−238)",
               "scale": {"domain": [-1.5, 1.5], "range": [596, 31], "nice": false, "zero": false},
               "axis": {"orient": "left", "offset": -217, "values": [-1.5, -1, -0.5, 0, 0.5, 1, 1.5], "format": "~g", "domain": false, "grid": false, "tickSize": -10, "tickWidth": 1.5, "tickColor": "#000000", "labelFont": "Liberation Sans", "labelFontSize": 18, "labelFontWeight": "bold", "labelColor": "#000000", "labelPadding": 22, "labelOverlap": false, "labelFlush": false, "labelBound": false, "labelExpr": "replace(datum.label, '-', '−')", "titleFont": "Liberation Sans", "titleFontSize": 22.5, "titleFontWeight": "normal", "titleColor": "#000000", "titlePadding": 10}},
         "fill": {"field": "group", "type": "nominal", "scale": {"domain": ["Soil Background", "AOI-5", "AOI-4", "AOI-3", "AOI-2", "AOI-1 Landfill", "AOI-1 Pershing Avenue"], "range": ["#e8141b", "#b35c27", "#9a4ab3", "#4dac4c", "#fb7d0f", "#3b7bbf", "#000000"]}, "legend": null}}}
    ]
  },
  {
    "layer": [
      {"data": {"values": [{"panel": "All Pairs|Tukey−Kramer|alpha=0.05"}]},
       "mark": {"type": "rect", "fill": "transparent", "stroke": "#000000", "strokeWidth": 1.6},
       "encoding": {
         "x": {"field": "panel", "type": "nominal", "title": null,
               "scale": {"type": "band", "domain": ["All Pairs|Tukey−Kramer|alpha=0.05"], "range": [871, 1090], "paddingInner": 0, "paddingOuter": 0},
               "axis": {"orient": "bottom", "offset": -942, "domain": false, "grid": false, "tickSize": -10, "tickWidth": 1.5, "tickColor": "#000000", "labelFont": "Liberation Sans", "labelFontSize": 18, "labelFontWeight": "bold", "labelColor": "#000000", "labelAngle": 0, "labelAlign": "center", "labelPadding": 26, "labelLineHeight": 21, "labelBaseline": "top", "labelLimit": 0, "labelOverlap": false, "labelBound": false, "labelFlush": false, "labelExpr": "split(datum.label, '|')", "title": null}},
         "y": {"datum": 1.5, "type": "quantitative", "scale": {"domain": [-1.5, 1.5], "range": [596, 31], "nice": false, "zero": false}, "axis": null},
         "y2": {"datum": -1.5}}},
      {"data": {"name": "means"},
       "mark": {"type": "point", "shape": "circle", "filled": false, "strokeWidth": 2.5, "opacity": 1},
       "encoding": {
         "x": {"datum": "All Pairs|Tukey−Kramer|alpha=0.05", "type": "nominal", "title": null, "scale": {"type": "band", "domain": ["All Pairs|Tukey−Kramer|alpha=0.05"], "range": [871, 1090], "paddingInner": 0, "paddingOuter": 0}},
         "y": {"field": "Mean", "type": "quantitative", "scale": {"domain": [-1.5, 1.5], "range": [596, 31], "nice": false, "zero": false}, "axis": null},
         "stroke": {"field": "group", "type": "nominal", "scale": {"domain": ["Soil Background", "AOI-5", "AOI-4", "AOI-3", "AOI-2", "AOI-1 Landfill", "AOI-1 Pershing Avenue"], "range": ["#e41a1c", "#a85f35", "#9b59b6", "#4daf4a", "#f5871f", "#4a86c5", "#000000"]}, "legend": null},
         "size": {"field": "radius", "type": "quantitative", "scale": {"type": "pow", "exponent": 2, "domain": [0, 1], "range": [0, 141873], "zero": true}, "legend": null}}}
    ]
  }
],
"resolve": {"scale": {"x": "independent", "y": "independent", "color": "independent", "fill": "independent", "stroke": "independent", "size": "independent"}}
}
